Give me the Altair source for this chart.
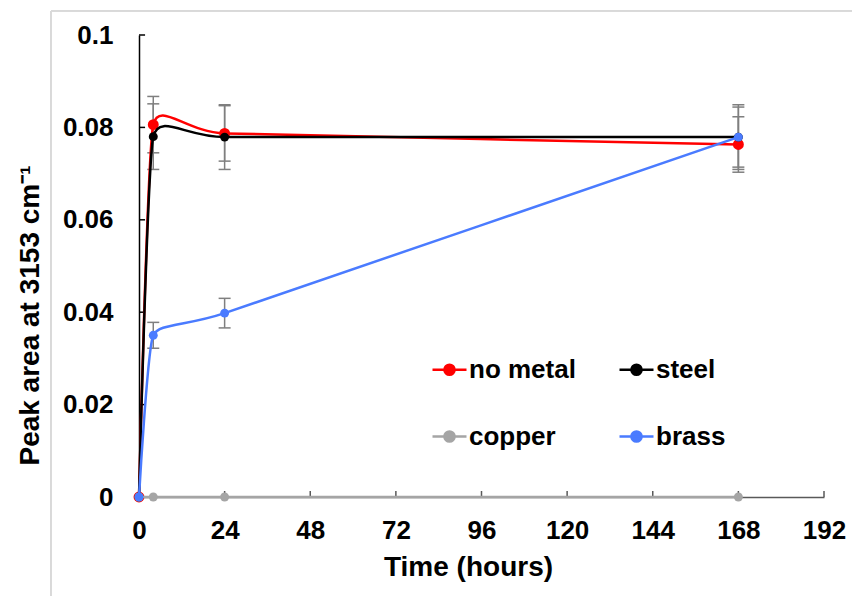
import altair as alt
import pandas as pd

# ---------------- data ----------------
times = [0, 4, 24, 168]
series_names = ["no metal", "steel", "copper", "brass"]
no_metal = [0.0, 0.0806, 0.0787, 0.0763]
steel = [0.0, 0.0780, 0.0779, 0.0779]
copper = [0.0, 0.0, 0.0, 0.0]
brass = [0.0, 0.0350, 0.0398, 0.0779]
no_metal_err = [None, 0.0061, 0.0060, 0.0060]
steel_err = [None, 0.0071, 0.0070, 0.0070]
copper_err = [None, None, None, None]
brass_err = [None, 0.0028, 0.0032, 0.0065]
series_colors = ["#FF0000", "#000000", "#A5A5A5", "#4A7BFF"]
x_tick_values = [0, 24, 48, 72, 96, 120, 144, 168, 192]
y_tick_values = [0, 0.02, 0.04, 0.06, 0.08, 0.1]

values = [no_metal, steel, copper, brass]
errors = [no_metal_err, steel_err, copper_err, brass_err]

rows, err_rows = [], []
for name, vals, errs in zip(series_names, values, errors):
    for t, v, e in zip(times, vals, errs):
        rows.append({"series": name, "time": t, "value": v})
        if e is not None:
            err_rows.append({"series": name, "time": t, "lo": v - e, "hi": v + e})
df = pd.DataFrame(rows)
err_df = pd.DataFrame(err_rows)
xt_df = pd.DataFrame({"t": [v for v in x_tick_values if v > 0]})
yt_df = pd.DataFrame({"v": [v for v in y_tick_values if v > 0]})

FONT = "Liberation Sans"
x_scale = alt.Scale(domain=[0, 192], nice=False, zero=False)
y_scale = alt.Scale(domain=[0, 0.1], nice=False)
color_scale = alt.Scale(domain=series_names, range=series_colors)

x_axis = alt.Axis(
    values=x_tick_values, title="Time (hours)", labelFont=FONT, labelFontSize=26,
    labelFontWeight="bold", labelColor="black", ticks=False, tickSize=0,
    labelPadding=20, domainColor="#595959", domainWidth=1.5, grid=False,
    titleFont=FONT, titleFontSize=28, titleFontWeight="bold", titleColor="black",
    titleX=329, titleY=78, titleAlign="center", titleBaseline="alphabetic",
    labelFlush=False, labelOverlap=False,
)
y_axis = alt.Axis(
    values=y_tick_values, format=".2~f", title="Peak area at 3153 cm⁻¹",
    labelFont=FONT, labelFontSize=26, labelFontWeight="bold", labelColor="black",
    ticks=False, tickSize=0, labelPadding=26, domainColor="black", domainWidth=1.5,
    grid=False, titleFont=FONT, titleFontSize=28, titleFontWeight="bold",
    titleColor="black", titleX=-101, titleY=280, titleAngle=-90,
    titleBaseline="alphabetic", titleAlign="center", labelFlush=False,
    labelOverlap=False,
)

SYM = "M-1,0L1,0M-0.3,0A0.3,0.3,0,1,1,0.3,0A0.3,0.3,0,1,1,-0.3,0Z"


def make_legend():
    return alt.Legend(
        title=None, orient="none", legendX=292, legendY=316, columns=2,
        direction="horizontal",
        symbolType=SYM, symbolSize=1156, symbolStrokeWidth=2.5, symbolOpacity=1,
        labelFont=FONT, labelFontSize=26, labelFontWeight="bold", labelColor="black",
        labelOffset=1, rowPadding=35, columnPadding=38, padding=0,
    )


X = alt.X("time:Q", scale=x_scale, axis=x_axis)
Y = alt.Y("value:Q", scale=y_scale, axis=y_axis)

layers = []

# light frame
layers.append(alt.Chart(df).mark_rule(color="#D9D9D9", strokeWidth=1).encode(
    x=alt.value(-88), y=alt.value(-24), y2=alt.value(561)))
layers.append(alt.Chart(df).mark_rule(color="#D9D9D9", strokeWidth=1).encode(
    y=alt.value(-24), x=alt.value(-88), x2=alt.value(713)))

# inward ticks
layers.append(alt.Chart(xt_df).mark_rule(color="#595959", strokeWidth=1.5).encode(
    x=alt.X("t:Q", scale=x_scale, axis=x_axis),
    y=alt.datum(0, scale=y_scale), y2=alt.datum(0.0013)))
layers.append(alt.Chart(yt_df).mark_rule(color="black", strokeWidth=1.5).encode(
    y=alt.Y("v:Q", scale=y_scale, axis=y_axis),
    x=alt.datum(0, scale=x_scale), x2=alt.datum(1.7)))

# error bars
layers.append(alt.Chart(err_df).mark_rule(color="#7F7F7F", strokeWidth=1.5).encode(
    x=alt.X("time:Q", scale=x_scale, axis=x_axis),
    y=alt.Y("lo:Q", scale=y_scale, axis=y_axis), y2="hi:Q"))
for fld in ["lo", "hi"]:
    layers.append(alt.Chart(err_df).mark_tick(
        color="#7F7F7F", thickness=1.5, size=12, orient="horizontal", opacity=1).encode(
        x=alt.X("time:Q", scale=x_scale, axis=x_axis),
        y=alt.Y(f"{fld}:Q", scale=y_scale, axis=y_axis)))

for i, name in enumerate(series_names):
    sub = alt.Chart(df).transform_filter(alt.datum.series == name)
    layers.append(sub.mark_line(interpolate="cardinal", tension=0.6, strokeWidth=2.5).encode(
        x=X, y=Y, color=alt.Color("series:N", scale=color_scale, legend=None)))
    if i == 0:
        layers.append(sub.mark_point(filled=True, size=80, opacity=1).encode(
            x=X, y=Y,
            color=alt.Color("series:N", scale=color_scale, legend=make_legend()),
            stroke=alt.Stroke("series:N", scale=color_scale, legend=make_legend())))
    else:
        layers.append(sub.mark_point(filled=True, size=80, opacity=1).encode(
            x=X, y=Y,
            color=alt.Color("series:N", scale=color_scale, legend=None)))

chart = alt.layer(*layers).properties(
    width=685, height=462, autosize="none",
    padding={"left": 139, "top": 35, "right": 28, "bottom": 99},
    background="white",
).resolve_legend(color="independent", stroke="independent").configure_view(stroke=None)

chart.save("out.html", embed_options={"renderer": "svg", "actions": False})
